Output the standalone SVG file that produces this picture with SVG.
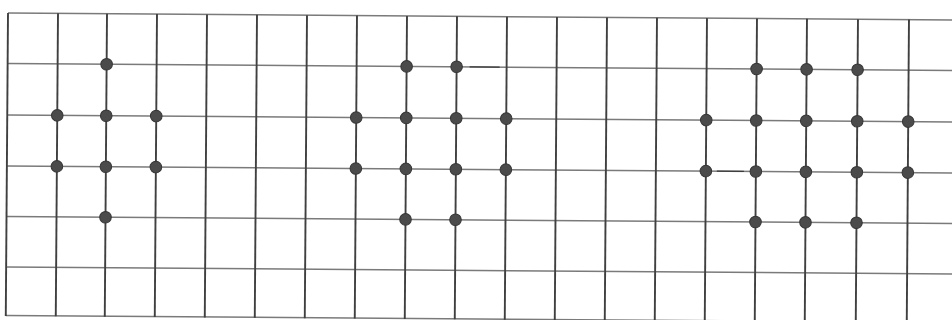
<svg xmlns="http://www.w3.org/2000/svg" width="952" height="320" viewBox="0 0 952 320">
  <style>
    .v { stroke: #404040; stroke-width: 1.9; fill: none; }
    .h { stroke: #7a7a7a; stroke-width: 1.5; fill: none; }
    .d { stroke: #3a3a3a; stroke-width: 1.2; fill: none; }
    .dot { fill: #4b4b4b; stroke: #363636; stroke-width: 1; }
  </style>
  <defs>
    <circle id="pt" r="5.8" class="dot"/>
  </defs>
  <rect width="952" height="320" fill="#ffffff"/>
  <g transform="rotate(0.42 8 13)">
    <g id="grid">
      <g id="rows">
        <line class="h" x1="8" y1="13" x2="960" y2="13"/>
        <line class="h" x1="8" y1="63.5" x2="960" y2="63.5"/>
        <line class="h" x1="8" y1="115" x2="960" y2="115"/>
        <line class="h" x1="8" y1="166" x2="960" y2="166"/>
        <line class="h" x1="8" y1="216.5" x2="960" y2="216.5"/>
        <line class="h" x1="8" y1="267" x2="960" y2="267"/>
        <line class="h" x1="8" y1="315.5" x2="960" y2="315.5"/>
      </g>
      <g id="cols">
        <line class="v" x1="8" y1="13" x2="8" y2="316"/>
        <line class="v" x1="58" y1="13" x2="58" y2="316"/>
        <line class="v" x1="107" y1="13" x2="107" y2="316"/>
        <line class="v" x1="157" y1="13" x2="157" y2="316"/>
        <line class="v" x1="207" y1="13" x2="207" y2="316"/>
        <line class="v" x1="257" y1="13" x2="257" y2="316"/>
        <line class="v" x1="307" y1="13" x2="307" y2="316"/>
        <line class="v" x1="357" y1="13" x2="357" y2="316"/>
        <line class="v" x1="407" y1="13" x2="407" y2="316"/>
        <line class="v" x1="457" y1="13" x2="457" y2="316"/>
        <line class="v" x1="507" y1="13" x2="507" y2="316"/>
        <line class="v" x1="557" y1="13" x2="557" y2="316"/>
        <line class="v" x1="607" y1="13" x2="607" y2="316"/>
        <line class="v" x1="657" y1="13" x2="657" y2="316"/>
        <line class="v" x1="707" y1="13" x2="707" y2="316"/>
        <line class="v" x1="757" y1="13" x2="757" y2="316"/>
        <line class="v" x1="807" y1="13" x2="807" y2="316"/>
        <line class="v" x1="858" y1="13" x2="858" y2="316"/>
        <line class="v" x1="909" y1="13" x2="909" y2="316"/>
      </g>
      <g id="marks">
        <line class="d" x1="470" y1="63.5" x2="500" y2="63.5"/>
        <line class="d" x1="718" y1="166" x2="745" y2="166"/>
      </g>
    </g>
    <g id="figure1">
      <use href="#pt" x="107" y="63.5"/>
      <use href="#pt" x="58" y="115"/>
      <use href="#pt" x="107" y="115"/>
      <use href="#pt" x="157" y="115"/>
      <use href="#pt" x="58" y="166"/>
      <use href="#pt" x="107" y="166"/>
      <use href="#pt" x="157" y="166"/>
      <use href="#pt" x="107" y="216.5"/>
    </g>
    <g id="figure2">
      <use href="#pt" x="407" y="63.5"/>
      <use href="#pt" x="457" y="63.5"/>
      <use href="#pt" x="357" y="115"/>
      <use href="#pt" x="407" y="115"/>
      <use href="#pt" x="457" y="115"/>
      <use href="#pt" x="507" y="115"/>
      <use href="#pt" x="357" y="166"/>
      <use href="#pt" x="407" y="166"/>
      <use href="#pt" x="457" y="166"/>
      <use href="#pt" x="507" y="166"/>
      <use href="#pt" x="407" y="216.5"/>
      <use href="#pt" x="457" y="216.5"/>
    </g>
    <g id="figure3">
      <use href="#pt" x="757" y="63.5"/>
      <use href="#pt" x="807" y="63.5"/>
      <use href="#pt" x="858" y="63.5"/>
      <use href="#pt" x="707" y="115"/>
      <use href="#pt" x="757" y="115"/>
      <use href="#pt" x="807" y="115"/>
      <use href="#pt" x="858" y="115"/>
      <use href="#pt" x="909" y="115"/>
      <use href="#pt" x="707" y="166"/>
      <use href="#pt" x="757" y="166"/>
      <use href="#pt" x="807" y="166"/>
      <use href="#pt" x="858" y="166"/>
      <use href="#pt" x="909" y="166"/>
      <use href="#pt" x="757" y="216.5"/>
      <use href="#pt" x="807" y="216.5"/>
      <use href="#pt" x="858" y="216.5"/>
    </g>
  </g>
</svg>
